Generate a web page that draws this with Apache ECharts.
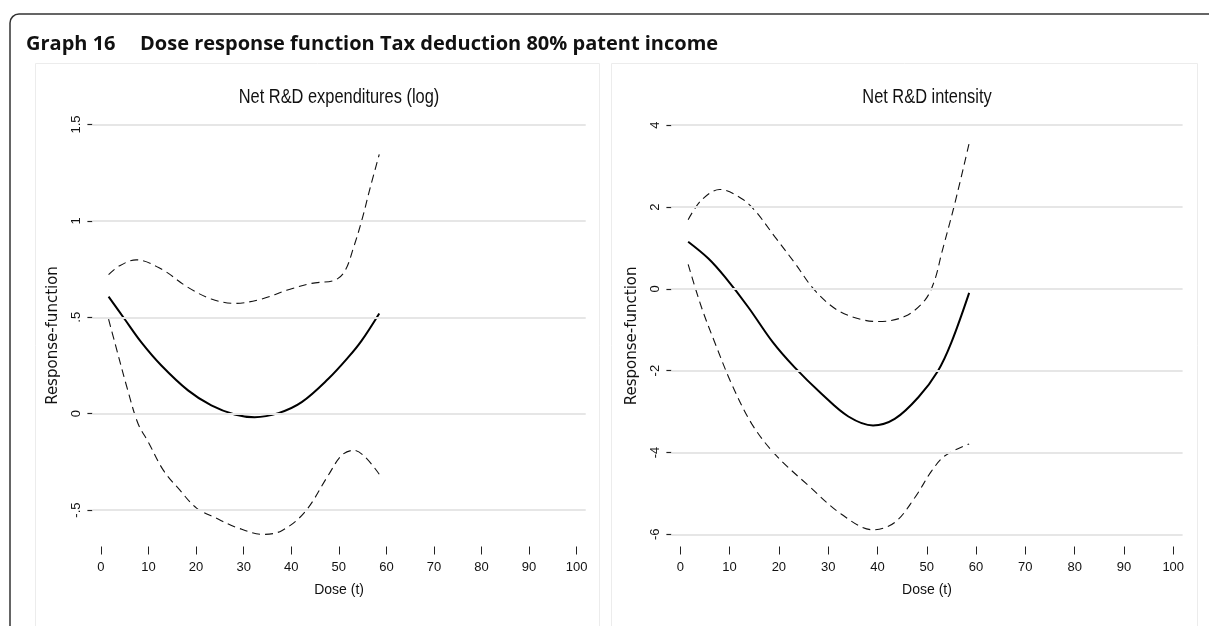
<!DOCTYPE html>
<html>
<head>
<meta charset="utf-8">
<script src="https://cdn.jsdelivr.net/npm/echarts@6/dist/echarts.min.js"></script>
<style>
  html, body { margin: 0; padding: 0; background: #fff; }
  #chart { width: 1209px; height: 626px; }
</style>
</head>
<body>
<div id="chart"></div>
<script>
// dose ticks shared by both panels
const doseTicks = [0, 10, 20, 30, 40, 50, 60, 70, 80, 90, 100];

// left panel: Net R&D expenditures (log)
const leftYTicks = [-0.5, 0, 0.5, 1, 1.5];
const leftYLabels = ['-.5', '0', '.5', '1', '1.5'];
const leftMeanX = [1.6, 5, 8.5, 12.7, 18.3, 23.2, 28.1, 32.3, 37.3, 42.2, 47.8, 52.0, 54.8, 58.5];
const leftMeanY = [0.607, 0.49, 0.37, 0.25, 0.121, 0.043, -0.004, -0.018, 0.003, 0.06, 0.181, 0.293, 0.379, 0.52];
const leftUpX = [1.6, 3.9, 7.4, 12.7, 18.3, 23.2, 28.1, 33.8, 39.4, 44.3, 49.2, 51.3, 53.1, 54.8, 56.6, 58.5];
const leftUpY = [0.721, 0.767, 0.798, 0.750, 0.655, 0.595, 0.572, 0.595, 0.643, 0.676, 0.693, 0.741, 0.862, 1.0, 1.172, 1.345];
const leftLoX = [1.6, 2.9, 5.65, 7.8, 9.95, 13.1, 16.6, 20.1, 24.3, 28.5, 34.1, 38.0, 42.9, 47.8, 50.6, 53.1, 55.5, 58.5];
const leftLoY = [0.49, 0.37, 0.12, -0.052, -0.147, -0.293, -0.397, -0.49, -0.543, -0.59, -0.626, -0.607, -0.509, -0.319, -0.216, -0.19, -0.224, -0.314];

// right panel: Net R&D intensity
const rightYTicks = [-6, -4, -2, 0, 2, 4];
const rightYLabels = ['-6', '-4', '-2', '0', '2', '4'];
const rightMeanX = [1.6, 5.7, 9.05, 13.8, 18.8, 23.2, 28.7, 34.1, 39.1, 43.5, 48.3, 52.3, 55.0, 58.6];
const rightMeanY = [1.15, 0.74, 0.29, -0.45, -1.31, -1.92, -2.57, -3.12, -3.34, -3.18, -2.65, -2.0, -1.31, -0.10];
const rightUpX = [1.6, 4.3, 8.0, 12.4, 15.1, 19.2, 23.3, 27.3, 32.0, 36.8, 40.2, 45.6, 49.6, 51.6, 53.0, 55.7, 58.6];
const rightUpY = [1.69, 2.17, 2.43, 2.21, 1.92, 1.27, 0.62, -0.04, -0.53, -0.75, -0.80, -0.67, -0.28, 0.21, 0.86, 2.09, 3.56];
const rightLoX = [1.6, 4.3, 7.0, 10.4, 14.5, 19.2, 26.0, 32.7, 39.1, 43.5, 47.6, 51.0, 53.7, 58.6];
const rightLoY = [0.60, -0.45, -1.31, -2.32, -3.30, -4.04, -4.81, -5.51, -5.89, -5.71, -5.10, -4.45, -4.08, -3.79];

const sans = '"Liberation Sans", Arial, sans-serif';
const pairs = (xs, ys) => xs.map((x, i) => [x, ys[i]]);

function xAxisFor(gridIndex) {
  return {
    type: 'value', gridIndex: gridIndex, min: -1.8, max: 101.9,
    name: 'Dose (t)', nameLocation: 'middle', nameGap: 37,
    nameTextStyle: { fontFamily: sans, fontSize: 14, color: '#111' },
    axisLine: { show: false, onZero: false },
    axisTick: { show: true, length: 8, customValues: doseTicks, lineStyle: { color: '#222', width: 1 } },
    axisLabel: { customValues: doseTicks, margin: 14, fontFamily: sans, fontSize: 13, color: '#111' },
    splitLine: { show: false }
  };
}

function yAxisFor(gridIndex, min, max, ticks, labels) {
  return {
    type: 'value', gridIndex: gridIndex, min: min, max: max,
    name: 'Response-function', nameLocation: 'middle', nameGap: 32,
    nameTextStyle: { fontFamily: '"DejaVu Sans", sans-serif', fontSize: 15, color: '#111' },
    axisLine: { show: false, onZero: false },
    axisTick: { show: true, length: 5, customValues: ticks, lineStyle: { color: '#222', width: 1.2 } },
    axisLabel: {
      customValues: ticks, rotate: 90, margin: 9, fontFamily: sans, fontSize: 13, color: '#111',
      formatter: v => labels[ticks.indexOf(v)] ?? ''
    },
    splitLine: { show: false }
  };
}

function gridLines(gridIndex, ticks, data) {
  return {
    type: 'line', xAxisIndex: gridIndex, yAxisIndex: gridIndex, z: 1,
    data: data, showSymbol: false, silent: true,
    lineStyle: { opacity: 0 },
    markLine: {
      silent: true, symbol: 'none', label: { show: false },
      lineStyle: { color: '#e6e6e6', width: 2, type: 'solid' },
      data: ticks.map(t => ({ yAxis: t }))
    }
  };
}

function curve(gridIndex, data, dashed) {
  return {
    type: 'line', xAxisIndex: gridIndex, yAxisIndex: gridIndex, z: 3,
    data: data, smooth: 0.35, showSymbol: false, silent: true,
    lineStyle: dashed
      ? { color: '#111', width: 1.1, type: [8, 5] }
      : { color: '#000', width: 2 }
  };
}

// condensed-looking panel heading
function heading(x, text) {
  return {
    type: 'text', x: x, y: 97, scaleX: 0.82,
    style: { x: 0, y: 0, text: text, align: 'center', verticalAlign: 'middle',
      font: '20px ' + sans, fill: '#111' }
  };
}

const chart = echarts.init(document.getElementById('chart'), null, { renderer: 'canvas' });

const option = {
  animation: false,
  backgroundColor: '#fff',
  grid: [
    { left: 92.4, top: 124.5, width: 493.3, height: 422, containLabel: false, outerBoundsMode: 'none' },
    { left: 671.4, top: 125.2, width: 511.2, height: 421.3, containLabel: false, outerBoundsMode: 'none' }
  ],
  xAxis: [xAxisFor(0), xAxisFor(1)],
  yAxis: [
    yAxisFor(0, -0.689, 1.5, leftYTicks, leftYLabels),
    yAxisFor(1, -6.298, 4, rightYTicks, rightYLabels)
  ],
  series: [
    gridLines(0, leftYTicks, pairs(leftMeanX, leftMeanY)),
    curve(0, pairs(leftUpX, leftUpY), true),
    curve(0, pairs(leftLoX, leftLoY), true),
    curve(0, pairs(leftMeanX, leftMeanY), false),
    gridLines(1, rightYTicks, pairs(rightMeanX, rightMeanY)),
    curve(1, pairs(rightUpX, rightUpY), true),
    curve(1, pairs(rightLoX, rightLoY), true),
    curve(1, pairs(rightMeanX, rightMeanY), false)
  ],
  graphic: [
    // outer frame and the two panel boxes
    { type: 'rect', z: -10, shape: { x: 10, y: 14, width: 1400, height: 800, r: 9 },
      style: { fill: 'none', stroke: '#333', lineWidth: 1.5 } },
    { type: 'rect', z: -9, shape: { x: 35.5, y: 63.5, width: 564, height: 700 },
      style: { fill: 'none', stroke: '#ececec', lineWidth: 1 } },
    { type: 'rect', z: -9, shape: { x: 611.5, y: 63.5, width: 586, height: 700 },
      style: { fill: 'none', stroke: '#ececec', lineWidth: 1 } },
    // headings
    { type: 'text', style: { x: 26, y: 44, text: 'Graph 16', align: 'left', verticalAlign: 'middle',
      font: 'bold 20px "Open Sans", sans-serif', fill: '#111' } },
    { type: 'text', style: { x: 140, y: 44, text: 'Dose response function Tax deduction 80% patent income',
      align: 'left', verticalAlign: 'middle', font: 'bold 20px "Open Sans", sans-serif', fill: '#111' } },
    heading(339, 'Net R&D expenditures (log)'),
    heading(927, 'Net R&D intensity')
  ]
};

chart.setOption(option);
</script>
</body>
</html>
